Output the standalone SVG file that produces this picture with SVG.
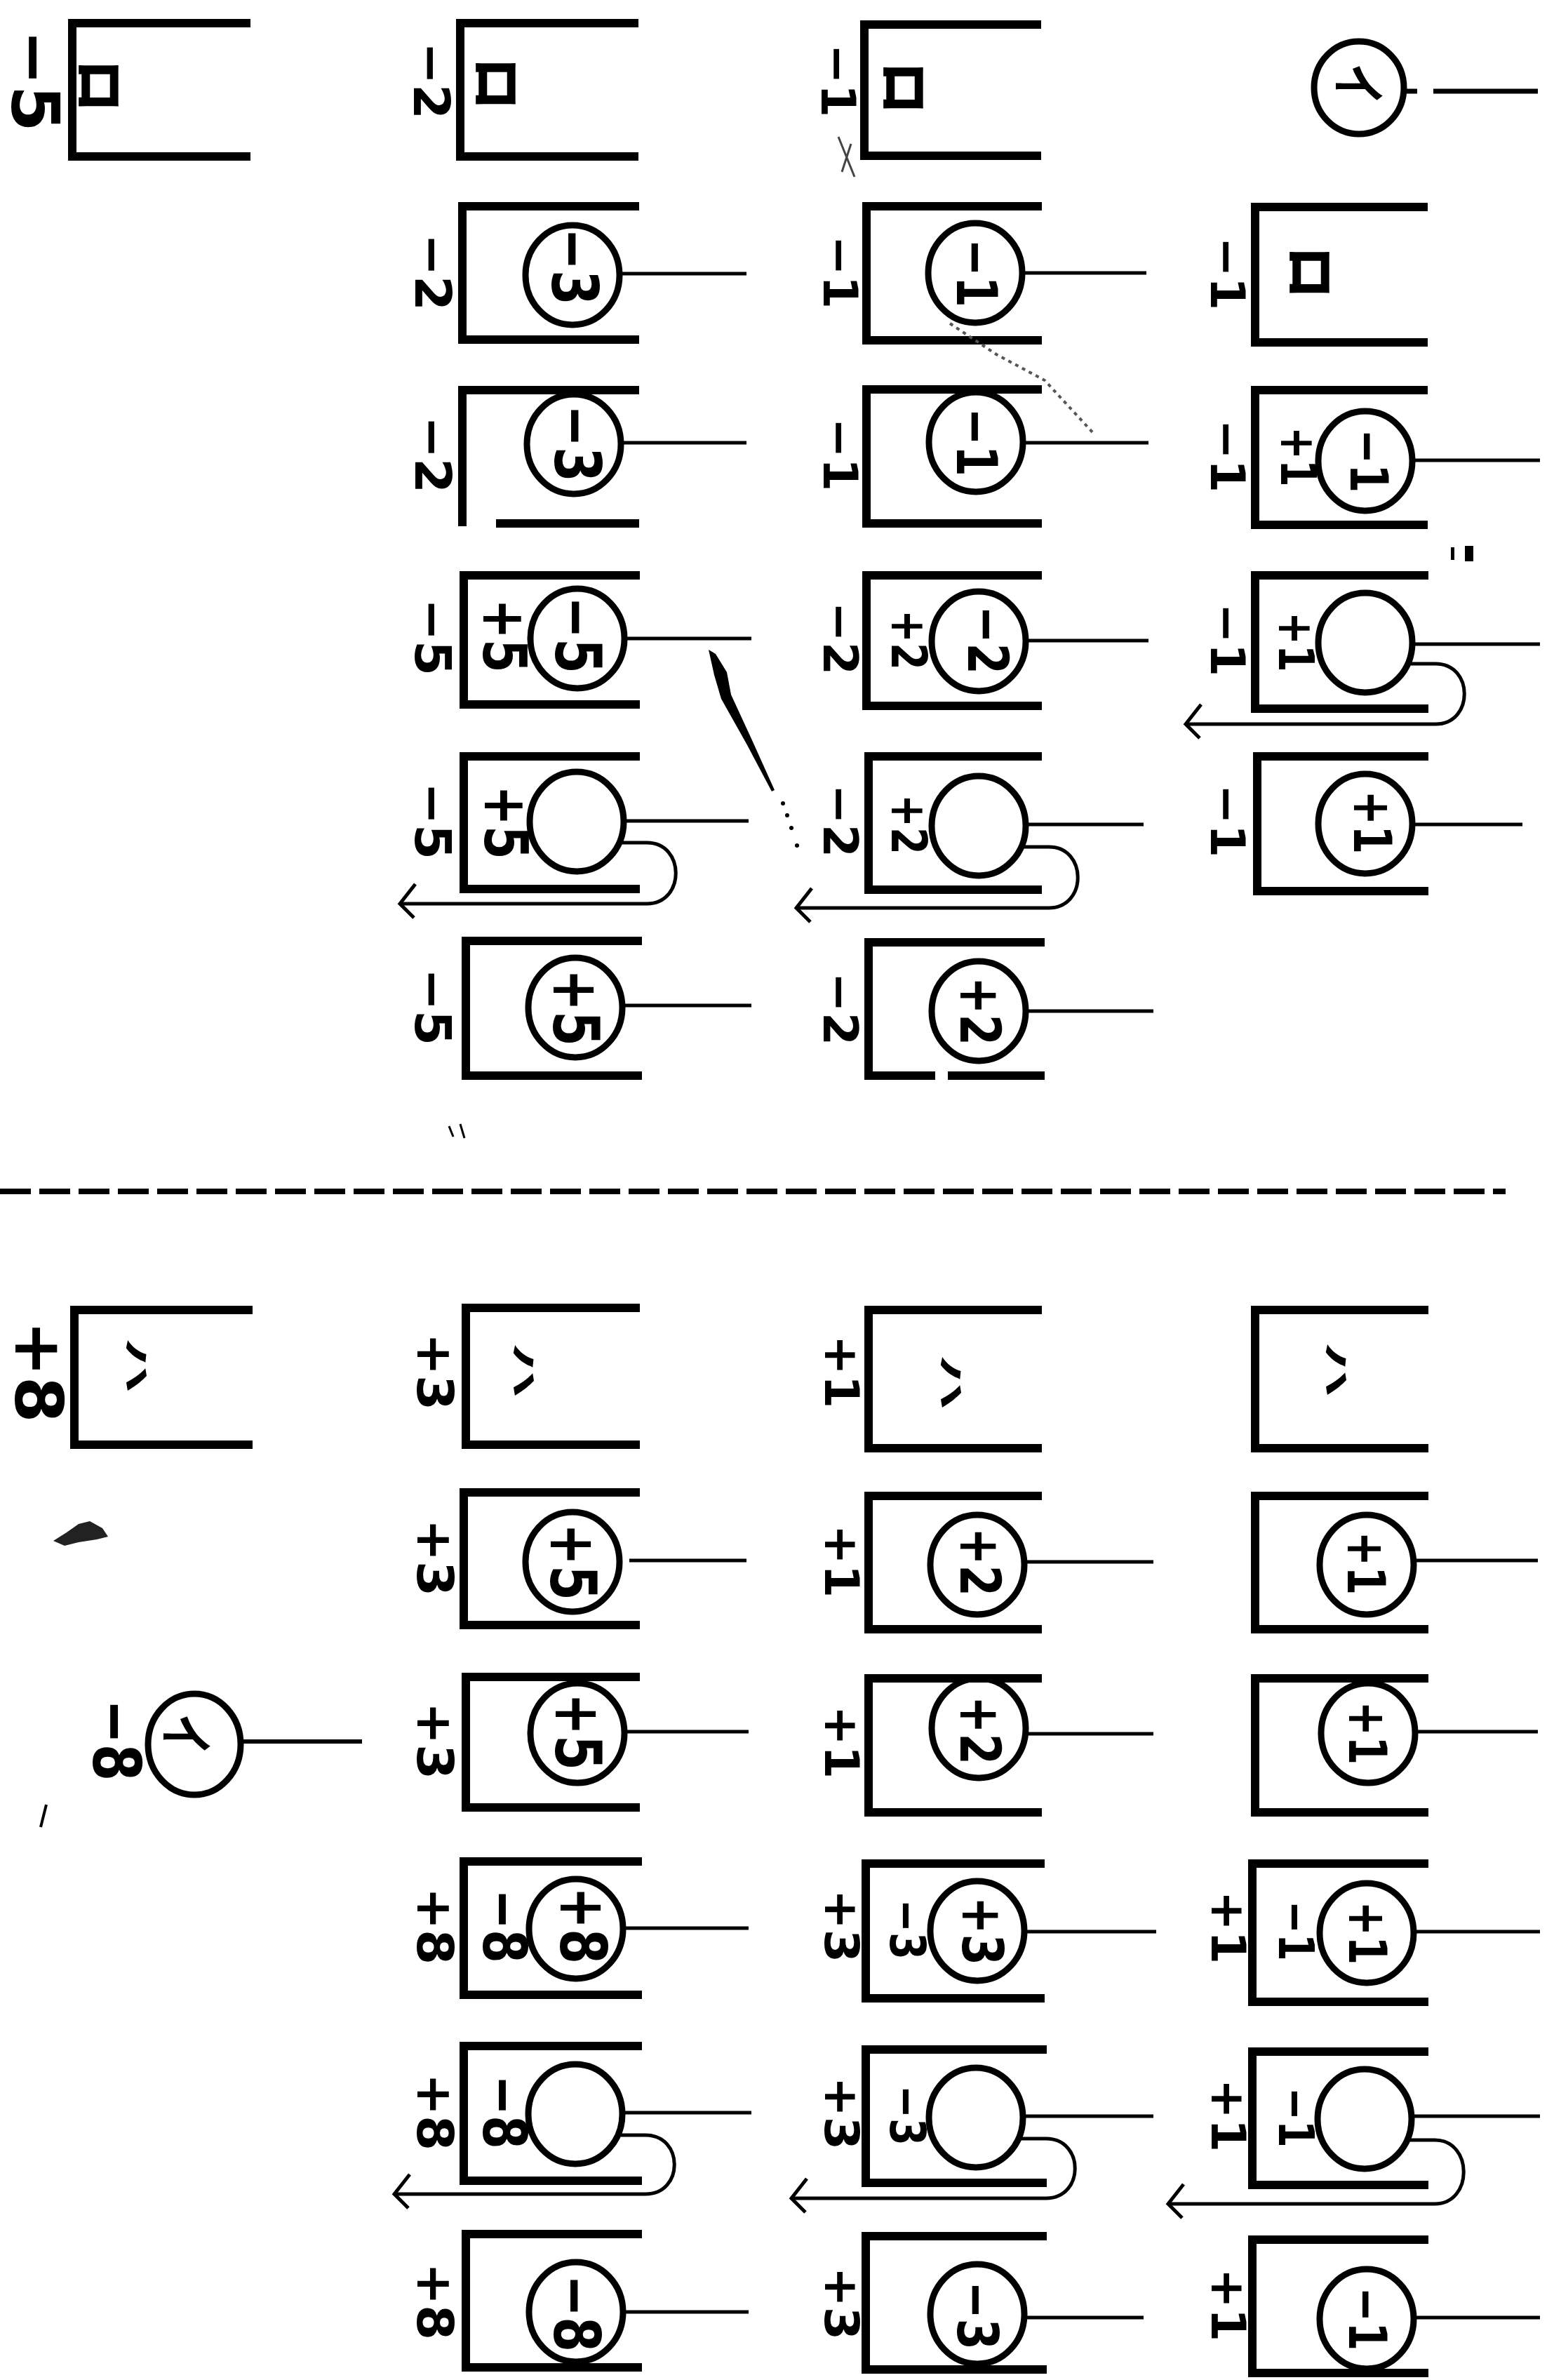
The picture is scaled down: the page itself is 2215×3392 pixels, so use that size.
<svg xmlns="http://www.w3.org/2000/svg" width="2215" height="3392" viewBox="0 0 2215 3392">
<style>
.box{fill:none;stroke:#000;stroke-width:12;stroke-linejoin:miter}
.cell{fill:none;stroke:#000;stroke-width:9}
.wire{fill:none;stroke:#000;stroke-width:5}
.loop{fill:none;stroke:#000;stroke-width:5;marker-end:url(#arr)}
.sep{fill:none;stroke:#000;stroke-width:8;stroke-dasharray:44 12}
.t{font-family:"DejaVu Sans","Liberation Sans",sans-serif;font-weight:bold;text-anchor:middle;dominant-baseline:central;fill:#000}
.k{font-family:"Noto Sans CJK JP","Noto Sans CJK SC",sans-serif;font-weight:bold;text-anchor:middle;dominant-baseline:central;fill:#000}
.oA{font-size:95px}.oB{font-size:72px}.oC{font-size:68px}
.iB{font-size:86px}.iC{font-size:70px}
.cB{font-size:90px}.cC{font-size:80px}.cD{font-size:74px}
.ro{font-size:74px;stroke:#000;stroke-width:2.5}.ha{font-size:80px}.i{font-size:78px}
</style>
<defs>
<marker id="arr" markerUnits="userSpaceOnUse" markerWidth="80" markerHeight="80" viewBox="-40 -40 80 80" refX="0" refY="0" orient="auto" overflow="visible">
<path d="M -22 28 L 0 0 L -20 -20" fill="none" stroke="#000" stroke-width="5"/>
</marker>
</defs>
<rect width="2215" height="3392" fill="#fff"/>

<g id="separator"><line class="sep" x1="0" y1="1698" x2="2146" y2="1698"/></g>

<g id="connectors">
<line class="wire" x1="2001" y1="130" x2="2020" y2="130" style="stroke-width:7"/>
<line class="wire" x1="2043" y1="130" x2="2192" y2="130" style="stroke-width:7"/>
<line class="wire" x1="883" y1="390" x2="1064" y2="390"/>
<line class="wire" x1="1457" y1="389" x2="1634" y2="389"/>
<line class="wire" x1="885" y1="631" x2="1064" y2="631"/>
<line class="wire" x1="1458" y1="631" x2="1637" y2="631"/>
<line class="wire" x1="2013" y1="656" x2="2195" y2="656"/>
<line class="wire" x1="890" y1="910" x2="1071" y2="910"/>
<line class="wire" x1="1462" y1="913" x2="1637" y2="913"/>
<line class="wire" x1="2013" y1="918" x2="2195" y2="918"/>
<line class="wire" x1="889" y1="1170" x2="1067" y2="1170"/>
<line class="wire" x1="1462" y1="1175" x2="1630" y2="1175"/>
<line class="wire" x1="2013" y1="1175" x2="2170" y2="1175"/>
<line class="wire" x1="887" y1="1433" x2="1071" y2="1433"/>
<line class="wire" x1="1462" y1="1441" x2="1644" y2="1441"/>
<line class="wire" x1="897" y1="2224" x2="1064" y2="2224"/>
<line class="wire" x1="1460" y1="2226" x2="1644" y2="2226"/>
<line class="wire" x1="2015" y1="2224" x2="2192" y2="2224"/>
<line class="wire" x1="343" y1="2482" x2="516" y2="2482" style="stroke-width:6"/>
<line class="wire" x1="890" y1="2468" x2="1067" y2="2468"/>
<line class="wire" x1="1462" y1="2471" x2="1644" y2="2471"/>
<line class="wire" x1="2017" y1="2468" x2="2192" y2="2468"/>
<line class="wire" x1="888" y1="2748" x2="1067" y2="2748"/>
<line class="wire" x1="1460" y1="2753" x2="1648" y2="2753"/>
<line class="wire" x1="2015" y1="2753" x2="2195" y2="2753"/>
<line class="wire" x1="887" y1="3011" x2="1071" y2="3011"/>
<line class="wire" x1="1458" y1="3016" x2="1644" y2="3016"/>
<line class="wire" x1="2012" y1="3016" x2="2195" y2="3016"/>
<line class="wire" x1="888" y1="3295" x2="1067" y2="3295"/>
<line class="wire" x1="1460" y1="3303" x2="1630" y2="3303"/>
<line class="wire" x1="2015" y1="3303" x2="2195" y2="3303"/>
<path class="loop" d="M884,1201 H922 C977,1201 977,1288 922,1288 H570"/>
<path class="loop" d="M1457,1207 H1495 C1550,1207 1550,1294 1495,1294 H1135"/>
<path class="loop" d="M2008,946 H2046 C2101,946 2101,1032 2046,1032 H1690"/>
<path class="loop" d="M882,3043 H920 C975,3043 975,3127 920,3127 H562"/>
<path class="loop" d="M1453,3048 H1491 C1546,3048 1546,3133 1491,3133 H1128"/>
<path class="loop" d="M2007,3050 H2045 C2100,3050 2100,3141 2045,3141 H1665"/>
</g>

<g id="A1"><path class="box" d="M357,33 H103 V223 H357"/>
<text class="t oA" transform="translate(50,115) rotate(90)">−5</text>
<text class="k ro" transform="translate(147,122) rotate(90)">ロ</text></g>
<g id="B1"><path class="box" d="M910,33 H656 V223 H910"/>
<text class="t oB" transform="translate(615,115) rotate(90)">−2</text>
<text class="k ro" transform="translate(713,119) rotate(90)">ロ</text></g>
<g id="C1"><path class="box" d="M1484,35 H1232 V222 H1484"/>
<text class="t oC" transform="translate(1194,115) rotate(90)">−1</text>
<text class="k ro" transform="translate(1294,125) rotate(90)">ロ</text></g>
<g id="D1"><ellipse class="cell" cx="1937" cy="125" rx="64" ry="66"/>
<text class="k i" transform="translate(1941,120) rotate(90) scale(0.75,1)">イ</text></g>

<g id="B2"><path class="box" d="M911,294 H659 V484 H911"/><ellipse class="cell" cx="816" cy="392" rx="67" ry="71"/>
<text class="t oB" transform="translate(617,388) rotate(90)">−2</text>
<text class="t cB" transform="translate(818,380) rotate(90) scale(0.8,1)">−3</text></g>
<g id="C2"><path class="box" d="M1485,294 H1235 V485 H1485"/><ellipse class="cell" cx="1390" cy="389" rx="67" ry="71"/>
<text class="t oC" transform="translate(1197,388) rotate(90)">−1</text>
<text class="t cC" transform="translate(1392,389) rotate(90) scale(0.8,1)">−1</text></g>
<g id="D2"><path class="box" d="M2035,295 H1789 V488 H2035"/>
<text class="t oC" transform="translate(1749,390) rotate(90)">−1</text>
<text class="k ro" transform="translate(1873,388) rotate(90)">ロ</text></g>

<g id="B3"><path class="box" d="M911,556 H659 V750 M707,746 H911"/><ellipse class="cell" cx="818" cy="633" rx="67" ry="71"/>
<text class="t oB" transform="translate(617,648) rotate(90)">−2</text>
<text class="t cB" transform="translate(822,632) rotate(90) scale(0.8,1)">−3</text></g>
<g id="C3"><path class="box" d="M1485,555 H1235 V746 H1485"/><ellipse class="cell" cx="1391" cy="630" rx="67" ry="71"/>
<text class="t oC" transform="translate(1197,648) rotate(90)">−1</text>
<text class="t cC" transform="translate(1392,630) rotate(90) scale(0.8,1)">−1</text></g>
<g id="D3"><path class="box" d="M2035,556 H1789 V748 H2035"/><ellipse class="cell" cx="1946" cy="657" rx="67" ry="71"/>
<text class="t oC" transform="translate(1749,650) rotate(90)">−1</text>
<text class="t iC" transform="translate(1850,651) rotate(90) scale(0.8,1)">+1</text>
<text class="t cD" transform="translate(1950,657) rotate(90) scale(0.8,1)">−1</text></g>

<g id="B4"><path class="box" d="M912,820 H661 V1004 H912"/><ellipse class="cell" cx="823" cy="910" rx="67" ry="71"/>
<text class="t oB" transform="translate(617,908) rotate(90)">−5</text>
<text class="t iB" transform="translate(719,906) rotate(90) scale(0.8,1)">+5</text>
<text class="t cB" transform="translate(823,905) rotate(90) scale(0.8,1)">−5</text></g>
<g id="C4"><path class="box" d="M1485,820 H1235 V1006 H1485"/><ellipse class="cell" cx="1395" cy="914" rx="67" ry="71"/>
<text class="t oC" transform="translate(1197,910) rotate(90)">−2</text>
<text class="t iC" transform="translate(1295,912) rotate(90) scale(0.8,1)">+2</text>
<text class="t cC" transform="translate(1408,912) rotate(90) scale(0.8,1)">−2</text></g>
<g id="D4"><path class="box" d="M2036,820 H1789 V1010 H2036"/><ellipse class="cell" cx="1946" cy="916" rx="67" ry="71"/>
<text class="t oC" transform="translate(1749,912) rotate(90)">−1</text>
<text class="t iC" transform="translate(1847,915) rotate(90) scale(0.8,1)">+1</text></g>

<g id="B5"><path class="box" d="M912,1078 H661 V1267 H912"/><ellipse class="cell" cx="822" cy="1171" rx="67" ry="71"/>
<text class="t oB" transform="translate(617,1170) rotate(90)">−5</text>
<text class="t iB" transform="translate(721,1172) rotate(90) scale(0.8,1)">+5</text></g>
<g id="C5"><path class="box" d="M1485,1078 H1238 V1268 H1485"/><ellipse class="cell" cx="1395" cy="1177" rx="67" ry="71"/>
<text class="t oC" transform="translate(1197,1170) rotate(90)">−2</text>
<text class="t iC" transform="translate(1295,1175) rotate(90) scale(0.8,1)">+2</text></g>
<g id="D5"><path class="box" d="M2036,1078 H1792 V1270 H2036"/><ellipse class="cell" cx="1946" cy="1174" rx="67" ry="71"/>
<text class="t oC" transform="translate(1749,1170) rotate(90)">−1</text>
<text class="t cD" transform="translate(1955,1172) rotate(90) scale(0.8,1)">+1</text></g>

<g id="B6"><path class="box" d="M915,1341 H664 V1533 H915"/><ellipse class="cell" cx="820" cy="1436" rx="67" ry="71"/>
<text class="t oB" transform="translate(617,1435) rotate(90)">−5</text>
<text class="t cB" transform="translate(820,1436) rotate(90) scale(0.8,1)">+5</text></g>
<g id="C6"><path class="box" d="M1489,1343 H1238 V1533 H1333 M1351,1533 H1489"/><ellipse class="cell" cx="1395" cy="1441" rx="67" ry="71"/>
<text class="t oC" transform="translate(1197,1438) rotate(90)">−2</text>
<text class="t cC" transform="translate(1397,1441) rotate(90) scale(0.8,1)">+2</text></g>

<g id="A7"><path class="box" d="M360,1867 H106 V2059 H360"/>
<text class="t oA" transform="translate(55,1955) rotate(90)">+8</text>
<text class="k ha" transform="translate(197,1946) rotate(90) scale(1,0.5)">ハ</text></g>
<g id="B7"><path class="box" d="M912,1864 H664 V2059 H912"/>
<text class="t oB" transform="translate(620,1955) rotate(90)">+3</text>
<text class="k ha" transform="translate(749,1953) rotate(90) scale(1,0.5)">ハ</text></g>
<g id="C7"><path class="box" d="M1485,1867 H1238 V2064 H1485"/>
<text class="t oC" transform="translate(1199,1955) rotate(90)">+1</text>
<text class="k ha" transform="translate(1358,1970) rotate(90) scale(1,0.5)">ハ</text></g>
<g id="D7"><path class="box" d="M2036,1867 H1789 V2064 H2036"/>
<text class="k ha" transform="translate(1907,1952) rotate(90) scale(1,0.5)">ハ</text></g>

<g id="B8"><path class="box" d="M912,2127 H661 V2316 H912"/><ellipse class="cell" cx="816" cy="2226" rx="67" ry="71"/>
<text class="t oB" transform="translate(620,2220) rotate(90)">+3</text>
<text class="t cB" transform="translate(816,2226) rotate(90) scale(0.8,1)">+5</text></g>
<g id="C8"><path class="box" d="M1485,2132 H1238 V2322 H1485"/><ellipse class="cell" cx="1393" cy="2230" rx="67" ry="71"/>
<text class="t oC" transform="translate(1199,2225) rotate(90)">+1</text>
<text class="t cC" transform="translate(1397,2226) rotate(90) scale(0.8,1)">+2</text></g>
<g id="D8"><path class="box" d="M2036,2132 H1789 V2322 H2036"/><ellipse class="cell" cx="1948" cy="2230" rx="67" ry="71"/>
<text class="t cD" transform="translate(1946,2228) rotate(90) scale(0.8,1)">+1</text></g>

<g id="A9"><ellipse class="cell" cx="277" cy="2486" rx="66" ry="72"/>
<text class="t oA" transform="translate(166,2480) rotate(90) scale(0.8,1)">−8</text>
<text class="k i" transform="translate(270,2472) rotate(90) scale(0.75,1)">イ</text></g>
<g id="B9"><path class="box" d="M912,2390 H664 V2576 H912"/><ellipse class="cell" cx="823" cy="2470" rx="67" ry="71"/>
<text class="t oB" transform="translate(620,2481) rotate(90)">+3</text>
<text class="t cB" transform="translate(823,2468) rotate(90) scale(0.8,1)">+5</text></g>
<g id="C9"><path class="box" d="M1485,2392 H1238 V2583 H1485"/><ellipse class="cell" cx="1395" cy="2463" rx="67" ry="71"/>
<text class="t oC" transform="translate(1199,2483) rotate(90)">+1</text>
<text class="t cC" transform="translate(1397,2466) rotate(90) scale(0.8,1)">+2</text></g>
<g id="D9"><path class="box" d="M2036,2392 H1789 V2583 H2036"/><ellipse class="cell" cx="1950" cy="2470" rx="67" ry="71"/>
<text class="t cD" transform="translate(1948,2470) rotate(90) scale(0.8,1)">+1</text></g>

<g id="B10"><path class="box" d="M915,2653 H661 V2843 H915"/><ellipse class="cell" cx="821" cy="2749" rx="67" ry="71"/>
<text class="t oB" transform="translate(620,2745) rotate(90)">+8</text>
<text class="t iB" transform="translate(719,2745) rotate(90) scale(0.8,1)">−8</text>
<text class="t cB" transform="translate(830,2744) rotate(90) scale(0.8,1)">+8</text></g>
<g id="C10"><path class="box" d="M1489,2656 H1234 V2848 H1489"/><ellipse class="cell" cx="1393" cy="2752" rx="67" ry="71"/>
<text class="t oC" transform="translate(1199,2745) rotate(90)">+3</text>
<text class="t iC" transform="translate(1293,2750) rotate(90) scale(0.8,1)">−3</text>
<text class="t cC" transform="translate(1400,2752) rotate(90) scale(0.8,1)">+3</text></g>
<g id="D10"><path class="box" d="M2036,2656 H1785 V2853 H2036"/><ellipse class="cell" cx="1948" cy="2755" rx="67" ry="71"/>
<text class="t oC" transform="translate(1750,2747) rotate(90)">+1</text>
<text class="t iC" transform="translate(1847,2752) rotate(90) scale(0.8,1)">−1</text>
<text class="t cD" transform="translate(1948,2755) rotate(90) scale(0.8,1)">+1</text></g>

<g id="B11"><path class="box" d="M915,2916 H661 V3108 H915"/><ellipse class="cell" cx="820" cy="3013" rx="67" ry="71"/>
<text class="t oB" transform="translate(620,3010) rotate(90)">+8</text>
<text class="t iB" transform="translate(719,3010) rotate(90) scale(0.8,1)">−8</text></g>
<g id="C11"><path class="box" d="M1492,2921 H1234 V3111 H1492"/><ellipse class="cell" cx="1391" cy="3018" rx="67" ry="71"/>
<text class="t oC" transform="translate(1199,3012) rotate(90)">+3</text>
<text class="t iC" transform="translate(1293,3015) rotate(90) scale(0.8,1)">−3</text></g>
<g id="D11"><path class="box" d="M2036,2924 H1785 V3114 H2036"/><ellipse class="cell" cx="1945" cy="3020" rx="67" ry="71"/>
<text class="t oC" transform="translate(1750,3015) rotate(90)">+1</text>
<text class="t iC" transform="translate(1847,3018) rotate(90) scale(0.8,1)">−1</text></g>

<g id="B12"><path class="box" d="M915,3184 H664 V3374 H915"/><ellipse class="cell" cx="821" cy="3295" rx="67" ry="71"/>
<text class="t oB" transform="translate(620,3280) rotate(90)">+8</text>
<text class="t cB" transform="translate(821,3297) rotate(90) scale(0.8,1)">−8</text></g>
<g id="C12"><path class="box" d="M1492,3187 H1234 V3377 H1492"/><ellipse class="cell" cx="1393" cy="3298" rx="67" ry="71"/>
<text class="t oC" transform="translate(1199,3283) rotate(90)">+3</text>
<text class="t cC" transform="translate(1393,3300) rotate(90) scale(0.8,1)">−3</text></g>
<g id="D12"><path class="box" d="M2036,3192 H1785 V3382 H2036"/><ellipse class="cell" cx="1948" cy="3305" rx="67" ry="71"/>
<text class="t oC" transform="translate(1750,3285) rotate(90)">+1</text>
<text class="t cD" transform="translate(1948,3305) rotate(90) scale(0.8,1)">−1</text></g>

<g id="marks" fill="#000">
<path d="M1010,926 L1020,932 L1036,958 L1042,990 L1072,1055 L1104,1126 L1100,1128 L1064,1060 L1028,996 L1018,962 Z"/>
<circle cx="1116" cy="1145" r="3"/><circle cx="1122" cy="1162" r="3"/><circle cx="1128" cy="1180" r="3"/><circle cx="1136" cy="1205" r="3"/>
<path d="M1354,461 L1420,505 L1489,542 L1559,618" fill="none" stroke="#555" stroke-width="4" stroke-dasharray="5 6"/>
<path d="M1195,195 L1218,252 M1213,205 L1200,245" fill="none" stroke="#444" stroke-width="3"/>
<path d="M2068,780 h5 v18 h-5 Z M2088,778 h12 v22 h-12 Z"/>
<path d="M76,2196 L95,2184 L112,2172 L128,2168 L146,2178 L154,2190 L138,2194 L112,2198 L92,2203 Z" fill="#222"/>
<path d="M640,1605 L646,1620 M656,1602 L662,1622" fill="none" stroke="#000" stroke-width="3"/>
<path d="M66,2572 L58,2604" fill="none" stroke="#000" stroke-width="4"/>
</g>
</svg>
